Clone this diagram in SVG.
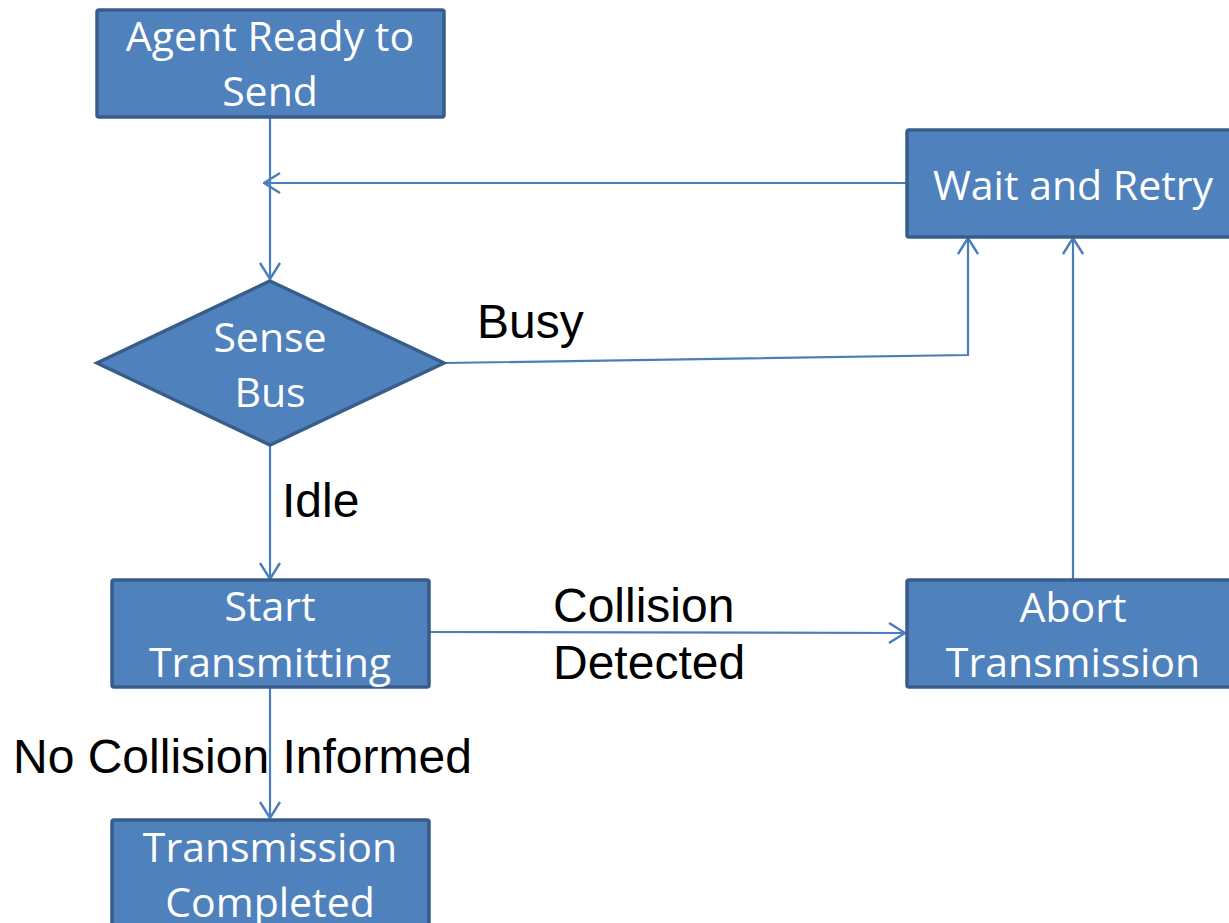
<svg xmlns="http://www.w3.org/2000/svg" width="1229" height="923" viewBox="0 0 1229 923">
<style>
.box{fill:#4f81bd;stroke:#385d8a;stroke-width:3.5}
.nt{font-family:"Open Sans","Liberation Sans",sans-serif;font-size:41px;fill:#ffffff;text-anchor:middle}
.lb{font-family:"Liberation Sans",Arial,sans-serif;font-size:48px;fill:#000000}
.cn{fill:none;stroke:#4a7ebb;stroke-width:2.2}
</style>
<defs>
<marker id="arr" viewBox="0 0 18 22" refX="17" refY="11" markerWidth="18" markerHeight="22" markerUnits="userSpaceOnUse" orient="auto">
<path d="M1,1 L17,11 L1,21" fill="none" stroke="#4a7ebb" stroke-width="2.4"/>
</marker>
</defs>
<rect width="1229" height="923" fill="#ffffff"/>
<g id="connectors">
<line class="cn" x1="270" y1="118" x2="270" y2="279" marker-end="url(#arr)"/>
<line class="cn" x1="906" y1="183" x2="264" y2="183" marker-end="url(#arr)"/>
<polyline class="cn" points="445,363 968,355 968,238" marker-end="url(#arr)"/>
<line class="cn" x1="270" y1="445" x2="270" y2="579" marker-end="url(#arr)"/>
<line class="cn" x1="429" y1="632" x2="905" y2="633" marker-end="url(#arr)"/>
<line class="cn" x1="1073" y1="579" x2="1073" y2="238" marker-end="url(#arr)"/>
<line class="cn" x1="270" y1="687" x2="270" y2="818" marker-end="url(#arr)"/>
</g>
<g id="n_agent">
<rect class="box" x="97" y="10" width="347" height="107" rx="2"/>
<text class="nt" x="270" y="51">Agent Ready to</text>
<text class="nt" x="270" y="106">Send</text>
</g>
<g id="n_wait">
<rect class="box" x="907" y="130" width="340" height="107" rx="2"/>
<text class="nt" x="1073" y="200">Wait and Retry</text>
</g>
<g id="n_sense">
<polygon class="box" points="270,281 444,363 270,445 97,363"/>
<text class="nt" x="270" y="352">Sense</text>
<text class="nt" x="270" y="407">Bus</text>
</g>
<g id="n_start">
<rect class="box" x="112" y="580" width="317" height="107" rx="2"/>
<text class="nt" x="270" y="621">Start</text>
<text class="nt" x="270" y="677">Transmitting</text>
</g>
<g id="n_abort">
<rect class="box" x="907" y="580" width="340" height="107" rx="2"/>
<text class="nt" x="1073" y="622">Abort</text>
<text class="nt" x="1073" y="677">Transmission</text>
</g>
<g id="n_done">
<rect class="box" x="112" y="820" width="317" height="120" rx="2"/>
<text class="nt" x="270" y="862">Transmission</text>
<text class="nt" x="270" y="917">Completed</text>
</g>
<g id="labels">
<text class="lb" x="477" y="338">Busy</text>
<text class="lb" x="282" y="517">Idle</text>
<text class="lb" x="553" y="622">Collision</text>
<text class="lb" x="553" y="679">Detected</text>
<text class="lb" x="13" y="773">No Collision Informed</text>
</g>
</svg>
